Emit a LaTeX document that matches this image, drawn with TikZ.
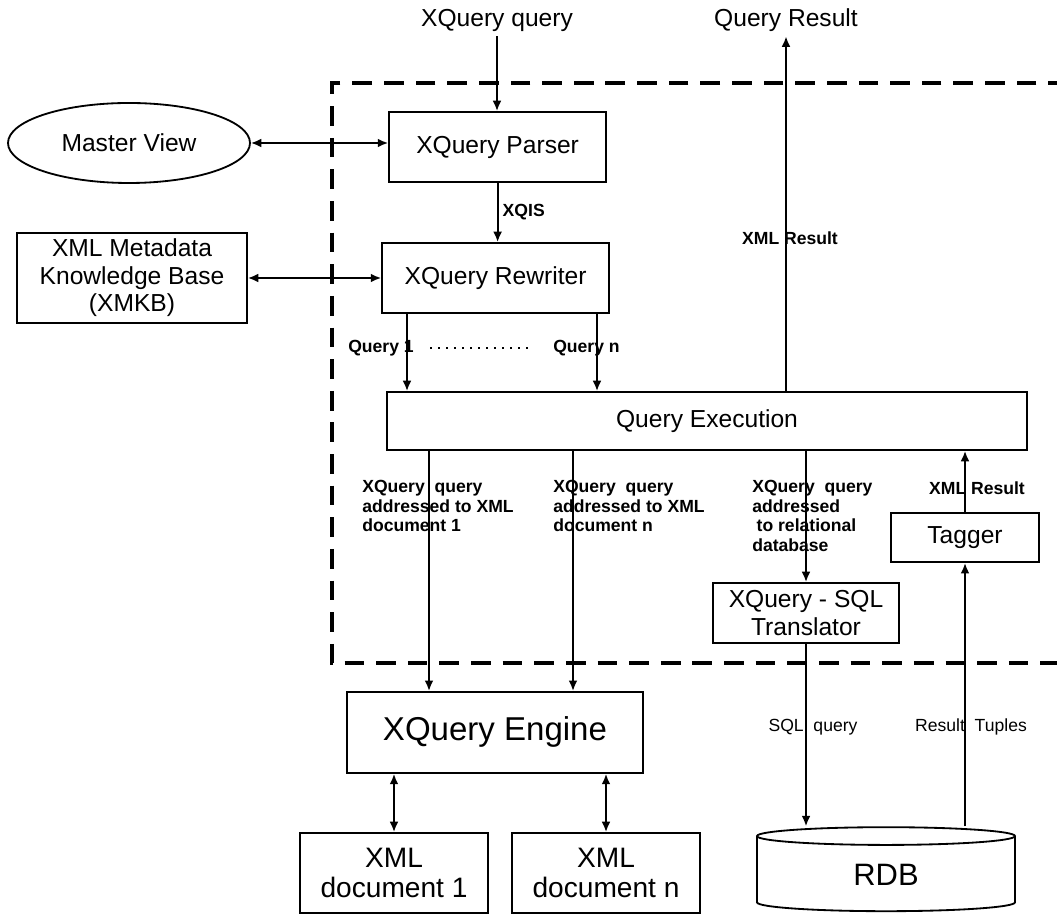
\documentclass[tikz,border=0pt]{standalone}
\usepackage{fontspec}
\setmainfont{Liberation Sans}
\usetikzlibrary{positioning, arrows.meta, shapes.geometric, calc}

\tikzset{
  box/.style={draw, line width=1.3pt, align=center, inner sep=2pt, font=\fontsize{17.5}{19.5}\selectfont},
  lbl/.style={inner sep=0pt, align=left, font=\fontsize{12.5}{13.9}\selectfont\bfseries},
  conn/.style={line width=1.3pt},
}

\begin{document}
\begin{tikzpicture}[>={Latex[length=2.6mm,width=2.2mm]}]
    \useasboundingbox (0,0) rectangle (26.425,22.95);
    % Mediator frame
    \draw[line width=3.5pt, dash pattern=on 14pt off 8.5pt] (26.7,20.875) -- (8.3,20.875) -- (8.3,6.375) -- (26.7,6.375);
    % Input and output
    \node[font=\fontsize{17.5}{19.5}\selectfont] (xqin) at (12.425,22.45) {XQuery query};
    \node[font=\fontsize{17.5}{19.5}\selectfont] (qres) at (19.65,22.45) {Query Result};
    % Components
    \node[box, ellipse, minimum width=6.05cm, minimum height=2cm] (mv) at (3.225,19.375) {Master View};
    \node[box, minimum width=5.425cm, minimum height=1.75cm] (parser) at (12.44,19.275) {XQuery Parser};
    \node[box, minimum width=5.675cm, minimum height=1.75cm] (rewriter) at (12.39,16.0) {XQuery Rewriter};
    \node[box, minimum width=5.75cm, minimum height=2.25cm] (xmkb) at (3.3,16.0) {XML Metadata\\Knowledge Base\\(XMKB)};
    \node[box, minimum width=16cm, minimum height=1.45cm] (qexec) at (17.675,12.425) {Query Execution};
    \node[box, minimum width=4.65cm, minimum height=1.5cm] (trans) at (20.15,7.625) {XQuery - SQL\\Translator};
    \node[box, minimum width=3.7cm, minimum height=1.225cm] (tagger) at (24.125,9.51) {Tagger};
    \node[box, minimum width=7.4cm, minimum height=2.025cm, font=\fontsize{23.5}{26}\selectfont] (engine) at (12.375,4.64) {XQuery Engine};
    \node[box, minimum width=4.7cm, minimum height=2cm, font=\fontsize{20}{21}\selectfont] (doc1) at (9.85,1.125) {XML\\document 1};
    \node[box, minimum width=4.7cm, minimum height=2cm, font=\fontsize{20}{21}\selectfont] (docn) at (15.15,1.125) {XML\\document n};
    \node[box, cylinder, shape border rotate=90, aspect=0.25, minimum width=6.45cm, minimum height=2.1cm, font=\fontsize{22}{24}\selectfont] (rdb) at (22.15,1.075) {RDB};
    % Query path
    \draw[conn, ->] (xqin.south) -- (xqin.south |- parser.north);
    \draw[conn, <->] (mv.east) -- (mv.east -| parser.west);
    \draw[conn, ->] (parser.south) -- (parser.south |- rewriter.north) node[lbl, midway, right=3pt] {XQIS};
    \draw[conn, <->] (xmkb.east) -- (xmkb.east -| rewriter.west);
    % Rewritten queries
    \coordinate (q1) at (10.175,15);
    \coordinate (qn) at (14.925,15);
    \draw[conn, ->] (q1 |- rewriter.south) -- (q1 |- qexec.north);
    \draw[conn, ->] (qn |- rewriter.south) -- (qn |- qexec.north);
    \node[lbl, anchor=east] (lq1) at (10.35,14.25) {Query 1};
    \node[lbl, anchor=west] (lqn) at (13.825,14.25) {Query n};
    \draw[line width=1pt, dash pattern=on 1.2pt off 4.5pt, shorten <=0.4cm, shorten >=0.5cm] (lq1.east) -- (lqn.west);
    % Result out
    \draw[conn, ->] (qexec.north -| qres.south) -- (qres.south);
    \node[lbl] (lres) at (19.75,17.0) {XML Result};
    % Subqueries to the sources
    \coordinate (d1) at (10.725,10);
    \coordinate (dn) at (14.325,10);
    \draw[conn, ->] (d1 |- qexec.south) -- (d1 |- engine.north);
    \draw[conn, ->] (dn |- qexec.south) -- (dn |- engine.north);
    \draw[conn, ->] (qexec.south -| trans.north) -- (trans.north);
    \draw[conn, ->] (tagger.north) -- (tagger.north |- qexec.south);
    \node[lbl, anchor=north west] (l1) at (9.05,10.95) {XQuery~ query\\addressed to XML\\document 1};
    \node[lbl, anchor=north west] (l2) at (13.825,10.95) {XQuery~ query\\addressed to XML\\document n};
    \node[lbl, anchor=north west] (l3) at (18.8,10.95) {XQuery~ query\\addressed\\\hspace{0.25em}to relational\\database};
    \node[lbl] (l4) at (24.425,10.75) {XML Result};
    % Relational side
    \draw[conn, ->] (trans.south) -- (trans.south |- rdb.north);
    \draw[conn, ->] (rdb.north -| tagger.south) -- (tagger.south);
    \node[lbl, font=\fontsize{12.5}{14}\selectfont] (l5) at (20.325,4.775) {SQL~~query};
    \node[lbl, font=\fontsize{12.5}{14}\selectfont] (l6) at (24.275,4.775) {Result~~Tuples};
    % XML sources
    \draw[conn, <->] (doc1.north) -- (doc1.north |- engine.south);
    \draw[conn, <->] (docn.north) -- (docn.north |- engine.south);
\end{tikzpicture}
\end{document}
